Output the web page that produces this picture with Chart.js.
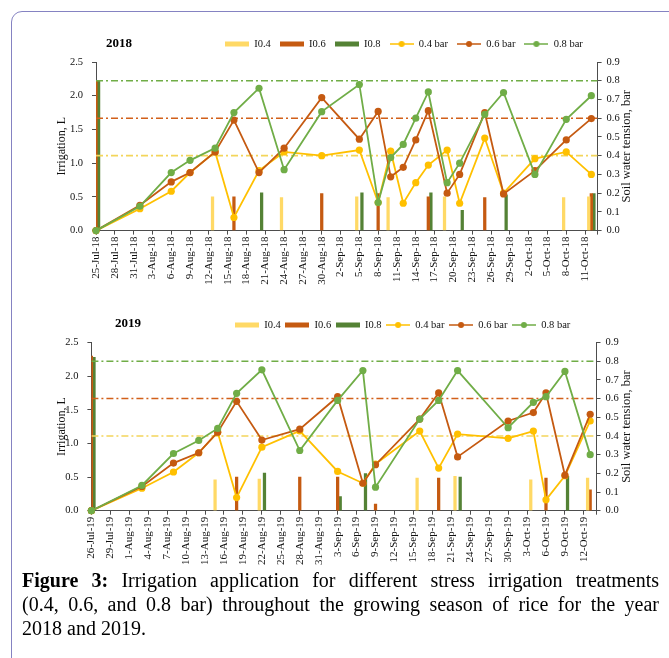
<!DOCTYPE html>
<html><head><meta charset="utf-8">
<script src="https://cdn.jsdelivr.net/npm/chart.js@4.4.1/dist/chart.umd.min.js"></script>
<style>
html,body{margin:0;padding:0;background:#fff;overflow:hidden;width:669px;height:658px;}
#frame{position:absolute;left:11px;top:11px;width:720px;height:720px;border:1.5px solid #8583c2;border-radius:11px;box-sizing:border-box;}
canvas{position:absolute;left:0;}
#caption{position:absolute;left:22px;top:568px;width:637px;font-family:'Liberation Serif','Times New Roman',serif;font-size:20px;line-height:24px;color:#000;}
#caption .j{text-align:justify;text-align-last:justify;}
</style></head><body>
<div id="frame"></div>
<canvas id="c1" width="669" height="300" style="top:0px"></canvas>
<canvas id="c2" width="669" height="280" style="top:290px"></canvas>
<div id="caption"><div class="j"><b>Figure 3:</b> Irrigation application for different stress irrigation treatments</div><div class="j">(0.4, 0.6, and 0.8 bar) throughout the growing season of rice for the year</div><div>2018 and 2019.</div></div>
<script>
// ---------------- DATA ----------------
const thresholds = [0.4, 0.6, 0.8];            // bar, stress thresholds
const seriesLabels = ['I0.4','I0.6','I0.8','0.4 bar','0.6 bar','0.8 bar'];

// 2018
const title2018 = '2018';
const axisStart2018 = '25-Jul-18';
const axisEnd2018 = '13-Oct-18';
const ticks2018 = ['25-Jul-18','28-Jul-18','31-Jul-18','3-Aug-18','6-Aug-18','9-Aug-18','12-Aug-18','15-Aug-18','18-Aug-18','21-Aug-18','24-Aug-18','27-Aug-18','30-Aug-18','2-Sep-18','5-Sep-18','8-Sep-18','11-Sep-18','14-Sep-18','17-Sep-18','20-Sep-18','23-Sep-18','26-Sep-18','29-Sep-18','2-Oct-18','5-Oct-18','8-Oct-18','11-Oct-18'];
const swtDates2018 = ['25-Jul-18','1-Aug-18','6-Aug-18','9-Aug-18','13-Aug-18','16-Aug-18','20-Aug-18','24-Aug-18','30-Aug-18','5-Sep-18','8-Sep-18','10-Sep-18','12-Sep-18','14-Sep-18','16-Sep-18','19-Sep-18','21-Sep-18','25-Sep-18','28-Sep-18','3-Oct-18','8-Oct-18','12-Oct-18'];
const swt04_2018 = [0,0.117,0.21,0.31,0.42,0.07,0.32,0.42,0.40,0.43,0.15,0.424,0.146,0.256,0.35,0.43,0.146,0.494,0.20,0.384,0.42,0.30];
const swt06_2018 = [0,0.135,0.26,0.31,0.42,0.59,0.31,0.44,0.71,0.488,0.636,0.287,0.338,0.484,0.64,0.20,0.30,0.63,0.196,0.32,0.484,0.598];
const swt08_2018 = [0,0.13,0.31,0.375,0.44,0.63,0.76,0.325,0.635,0.78,0.15,0.39,0.46,0.60,0.74,0.256,0.36,0.62,0.737,0.30,0.594,0.72];
const irrDates04_2018 = ['25-Jul-18','13-Aug-18','24-Aug-18','5-Sep-18','10-Sep-18','19-Sep-18','8-Oct-18','12-Oct-18'];
const irr04_2018 = [2.22,0.50,0.49,0.50,0.49,0.50,0.49,0.50];
const irrDates06_2018 = ['25-Jul-18','16-Aug-18','30-Aug-18','8-Sep-18','16-Sep-18','25-Sep-18','12-Oct-18'];
const irr06_2018 = [2.22,0.50,0.55,0.55,0.50,0.49,0.55];
const irrDates08_2018 = ['25-Jul-18','20-Aug-18','5-Sep-18','16-Sep-18','21-Sep-18','28-Sep-18','12-Oct-18'];
const irr08_2018 = [2.22,0.56,0.56,0.56,0.30,0.53,0.55];

// 2019
const title2019 = '2019';
const axisStart2019 = '26-Jul-19';
const axisEnd2019 = '14-Oct-19';
const ticks2019 = ['26-Jul-19','29-Jul-19','1-Aug-19','4-Aug-19','7-Aug-19','10-Aug-19','13-Aug-19','16-Aug-19','19-Aug-19','22-Aug-19','25-Aug-19','28-Aug-19','31-Aug-19','3-Sep-19','6-Sep-19','9-Sep-19','12-Sep-19','15-Sep-19','18-Sep-19','21-Sep-19','24-Sep-19','27-Sep-19','30-Sep-19','3-Oct-19','6-Oct-19','9-Oct-19','12-Oct-19'];
const swtDates2019 = ['26-Jul-19','3-Aug-19','8-Aug-19','12-Aug-19','15-Aug-19','18-Aug-19','22-Aug-19','28-Aug-19','3-Sep-19','7-Sep-19','9-Sep-19','16-Sep-19','19-Sep-19','22-Sep-19','30-Sep-19','4-Oct-19','6-Oct-19','9-Oct-19','13-Oct-19'];
const swt04_2019 = [0,0.12,0.207,0.31,0.42,0.07,0.34,0.427,0.21,0.147,0.25,0.426,0.228,0.41,0.387,0.426,0.058,0.187,0.48];
const swt06_2019 = [0,0.13,0.255,0.31,0.42,0.585,0.378,0.436,0.61,0.147,0.246,0.49,0.63,0.288,0.48,0.525,0.63,0.19,0.516];
const swt08_2019 = [0,0.135,0.306,0.376,0.44,0.628,0.754,0.322,0.59,0.75,0.126,0.49,0.59,0.75,0.444,0.58,0.61,0.745,0.30];
const irrDates04_2019 = ['26-Jul-19','15-Aug-19','22-Aug-19','16-Sep-19','22-Sep-19','4-Oct-19','13-Oct-19'];
const irr04_2019 = [2.30,0.46,0.47,0.485,0.51,0.46,0.485];
const irrDates06_2019 = ['26-Jul-19','18-Aug-19','28-Aug-19','3-Sep-19','9-Sep-19','19-Sep-19','6-Oct-19','13-Oct-19'];
const irr06_2019 = [2.30,0.50,0.50,0.50,0.10,0.485,0.485,0.31];
const irrDates08_2019 = ['26-Jul-19','22-Aug-19','3-Sep-19','7-Sep-19','22-Sep-19','9-Oct-19'];
const irr08_2019 = [2.28,0.56,0.21,0.55,0.50,0.51];

// ---------------- STYLE ----------------
const FONT = "'Liberation Serif','Times New Roman',serif";
const TXT = '#111';
const AXIS = '#4d4d4d';
const barColors = ['#FFD966', '#C55A11', '#548235'];
const lineColors = ['#FFC000', '#C55A11', '#70AD47'];
const refColors = ['#F3D55B', '#D2601A', '#70AD47'];

const MON = ['Jan','Feb','Mar','Apr','May','Jun','Jul','Aug','Sep','Oct','Nov','Dec'];
function toUTC(s){ const [d,m,y] = s.split('-'); return Date.UTC(2000 + (+y), MON.indexOf(m), +d); }
function dayOf(s, start){ return Math.round((toUTC(s) - toUTC(start)) / 864e5); }

function barSwatch(color){
  const c = document.createElement('canvas'); c.width = 24; c.height = 6;
  const x = c.getContext('2d'); x.fillStyle = color; x.fillRect(0, 0.5, 24, 5); return c;
}
function lineSwatch(color){
  const c = document.createElement('canvas'); c.width = 24; c.height = 8;
  const x = c.getContext('2d'); x.strokeStyle = color; x.lineWidth = 1.5;
  x.beginPath(); x.moveTo(0, 4); x.lineTo(24, 4); x.stroke();
  x.fillStyle = color; x.beginPath(); x.arc(12, 4, 3, 0, Math.PI * 2); x.fill(); return c;
}
const swatches = {};
seriesLabels.forEach((l, i) => { swatches[l] = i < 3 ? barSwatch(barColors[i]) : lineSwatch(lineColors[i - 3]); });

const placeHeader = {
  id: 'placeHeader',
  afterLayout(chart, args, o) {
    const t = chart.titleBlock, l = chart.legend;
    if (t) { const h = t.height; t.left = o.titleX; t.right = o.titleX + 100; t.top = o.titleY - h / 2; t.bottom = t.top + h; }
    if (l) {
      const pad = l.options.labels.padding, fs = l.options.labels.font.size, h = l.height;
      l.left = o.legendX - pad; l.right = chart.width + 40; l.top = o.legendY - pad - fs / 2; l.bottom = l.top + h;
    }
  }
};
const rightTitle = {
  id: 'rightTitle',
  afterDraw(chart, args, o) {
    const {ctx, chartArea} = chart;
    ctx.save();
    ctx.font = o.size + 'px ' + FONT; ctx.fillStyle = TXT;
    ctx.textAlign = 'center'; ctx.textBaseline = 'middle';
    ctx.translate(o.x, (chartArea.top + chartArea.bottom) / 2);
    ctx.rotate(-Math.PI / 2);
    ctx.fillText(o.text, 0, 0);
    ctx.restore();
  }
};

function makeChart(canvas, d, L) {
  const start = d.start;
  const xMax = dayOf(d.end, start);
  const tickDays = d.ticks.map(t => dayOf(t, start));
  const pts = (dates, vals) => dates.map((s, i) => ({x: dayOf(s, start), y: vals[i]}));
  const bar = (i, dates, vals) => ({
    type: 'bar', label: seriesLabels[i], data: pts(dates, vals), backgroundColor: barColors[i],
    borderWidth: 0, barThickness: 2.6, yAxisID: 'y', order: 10
  });
  const line = (i, vals, ord) => ({
    type: 'line', label: seriesLabels[i + 3], data: pts(d.swtDates, vals), borderColor: lineColors[i],
    backgroundColor: lineColors[i], pointBackgroundColor: lineColors[i], pointBorderWidth: 0,
    pointRadius: 3.6, borderWidth: 1.8, tension: 0, fill: false, yAxisID: 'y1', order: ord, clip: false
  });
  const ref = (i) => ({
    type: 'line', label: 'ref' + thresholds[i], data: [{x: 0, y: thresholds[i]}, {x: xMax, y: thresholds[i]}],
    borderColor: refColors[i], borderWidth: 1.6, borderDash: [7, 3, 2, 3], pointRadius: 0, fill: false,
    yAxisID: 'y1', order: 5, isRef: true
  });
  const tickFont = {family: FONT, size: 10.5};
  return new Chart(canvas, {
    type: 'bar',
    data: { datasets: [
      bar(0, d.irrDates[0], d.irr[0]), bar(1, d.irrDates[1], d.irr[1]), bar(2, d.irrDates[2], d.irr[2]),
      line(0, d.swt[0], 3), line(1, d.swt[1], 2), line(2, d.swt[2], 1),
      ref(0), ref(1), ref(2)
    ]},
    options: {
      responsive: false, animation: false, devicePixelRatio: 1, events: [],
      layout: { padding: {left: L.padL, right: 0, top: L.padT, bottom: 0} },
      plugins: {
        tooltip: {enabled: false},
        title: { display: true, text: d.title, align: 'start', color: '#000', padding: 0,
                 font: {family: FONT, size: 13, weight: 'bold'} },
        legend: { display: true, position: 'top', align: 'start',
          labels: { usePointStyle: true, pointStyleWidth: 24, boxHeight: 10, padding: L.legPad,
            color: TXT, font: {family: FONT, size: 10.5},
            generateLabels: (chart) => chart.data.datasets.map((ds, i) => ds.isRef ? null : ({
              text: ds.label, pointStyle: swatches[ds.label], datasetIndex: i, hidden: false,
              lineWidth: 0, strokeStyle: 'rgba(0,0,0,0)', fillStyle: 'rgba(0,0,0,0)', fontColor: TXT
            })).filter(Boolean) } },
        placeHeader: { titleX: L.titleX, titleY: L.titleY, legendX: L.legX, legendY: L.legY },
        rightTitle: { text: 'Soil water tension, bar', x: L.rtX, size: 12.5 }
      },
      scales: {
        x: { type: 'linear', min: 0, max: xMax, bounds: 'data', offset: false,
          grid: { display: true, offset: false, drawOnChartArea: false, drawTicks: true, tickLength: 4, color: AXIS },
          border: { display: true, color: AXIS, width: 1 },
          ticks: { stepSize: tickDays[1] - tickDays[0], includeBounds: false, autoSkip: false,
            maxRotation: 90, minRotation: 90, padding: 2, color: TXT, font: {family: FONT, size: 11},
            callback: (v) => { const k = tickDays.indexOf(Math.round(v)); return k >= 0 ? d.ticks[k] : ''; } },
          afterFit: (s) => { s.height = L.xH; } },
        y: { position: 'left', min: 0, max: 2.5,
          grid: { display: true, drawOnChartArea: false, drawTicks: true, tickLength: 4, color: AXIS },
          border: { display: true, color: AXIS, width: 1 },
          ticks: { stepSize: 0.5, padding: 9, color: TXT, font: tickFont, callback: v => v.toFixed(1) },
          title: { display: true, text: 'Irrigation, L', color: TXT, font: {family: FONT, size: 12}, padding: {top: 4.5, bottom: 0} },
          afterFit: (s) => { s.width = L.yW; } },
        y1: { position: 'right', min: 0, max: 0.9,
          grid: { display: true, drawOnChartArea: false, drawTicks: true, tickLength: 4, color: AXIS },
          border: { display: true, color: AXIS, width: 1 },
          ticks: { stepSize: 0.1, padding: 5, color: TXT, font: tickFont, callback: v => v.toFixed(1) },
          afterFit: (s) => { s.width = L.y1W; } }
      }
    },
    plugins: [placeHeader, rightTitle]
  });
}

makeChart(document.getElementById('c1'), {
  title: title2018, start: axisStart2018, end: axisEnd2018, ticks: ticks2018,
  swtDates: swtDates2018, swt: [swt04_2018, swt06_2018, swt08_2018],
  irrDates: [irrDates04_2018, irrDates06_2018, irrDates08_2018], irr: [irr04_2018, irr06_2018, irr08_2018]
}, { padL: 50, yW: 46, y1W: 71.4, xH: 69.4, padT: 16.9, legPad: 9,
     titleX: 106, titleY: 43.5, legX: 225, legY: 44, rtX: 627 });

makeChart(document.getElementById('c2'), {
  title: title2019, start: axisStart2019, end: axisEnd2019, ticks: ticks2019,
  swtDates: swtDates2019, swt: [swt04_2019, swt06_2019, swt08_2019],
  irrDates: [irrDates04_2019, irrDates06_2019, irrDates08_2019], irr: [irr04_2019, irr06_2019, irr08_2019]
}, { padL: 50, yW: 41.4, y1W: 72.5, xH: 59.3, padT: 11.9, legPad: 4.5,
     titleX: 115, titleY: 33.6, legX: 235, legY: 35, rtX: 627 });
</script>
</body></html>
